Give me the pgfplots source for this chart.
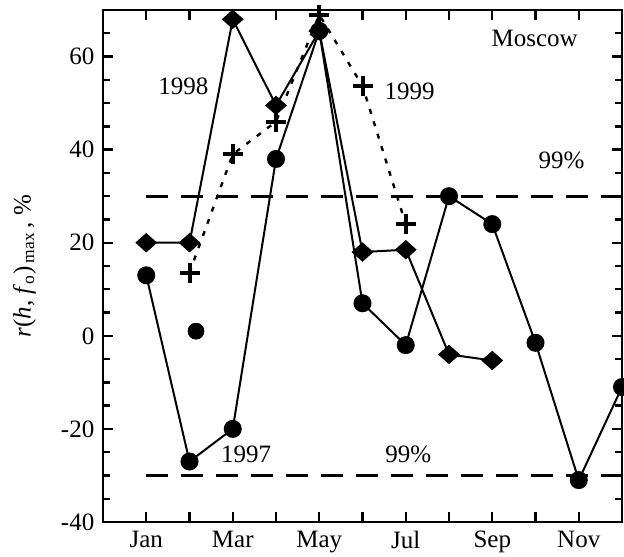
\documentclass[border=0pt]{standalone}
\usepackage{pgfplots}
\pgfplotsset{compat=1.18}
\usepackage{fontspec}
\setmainfont{Liberation Serif}

\begin{document}
\fontsize{12.5}{15}\selectfont
\begin{tikzpicture}
\begin{axis}[
  scale only axis, width=259.5pt, height=256pt,
  xmin=0, xmax=12, ymin=-40, ymax=70,
  axis line style={line width=1.4pt},
  xtick={1,...,11},
  xticklabels={Jan,,Mar,,May,,Jul,,Sep,,Nov},
  ytick={-40,-20,...,60},
  minor ytick={-35,-30,...,65},
  tick align=inside,
  major tick length=5pt, minor tick length=3.5pt,
  every tick/.style={line width=1.2pt, black},
  /pgf/number format/assume math mode=true,
  ticklabel style={font=\fontsize{12.5}{15}\selectfont},
  ylabel={\textit{r}(\textit{h}, \textit{f}\textsubscript{o})\textsubscript{\,max}\,, \%},
  ylabel style={font=\fontsize{12.5}{15}\selectfont},
  ylabel shift=4pt,
]
% 99% significance levels
\addplot[black, line width=1.5pt, dash pattern=on 11pt off 6.5pt] coordinates {(1,30) (12,30)};
\addplot[black, line width=1.5pt, dash pattern=on 11pt off 6.5pt] coordinates {(1,-30) (12,-30)};

% 1997
\addplot[black, line width=1pt, mark=*, mark size=4pt] coordinates {
  (1,13) (2,-27) (3,-20) (4,38) (5,65.5) (6,7) (7,-2) (8,30) (9,24) (10,-1.5) (11,-31) (12,-11)};
\addplot[black, only marks, mark=*, mark size=4pt] coordinates {(2.15,1)};

% 1998
\addplot[black, line width=1pt, mark=diamond*, mark size=4.2pt,
  mark options={xscale=1.5}] coordinates {
  (1,20) (2,20) (3,68) (4,49.5) (5,65.5) (6,18) (7,18.5) (8,-4) (9,-5.3)};

% 1999
\addplot[black, line width=1.2pt, dash pattern=on 2.5pt off 4pt,
  mark=+, mark size=5pt, mark options={solid, line width=2pt}] coordinates {
  (2,13.6) (3,39) (4,46) (5,69) (6,53.7) (7,24)};

\node[anchor=center] at (axis cs:9.98,63.9) {Moscow};
\node[anchor=center] at (axis cs:7.09,52.6) {1999};
\node[anchor=center] at (axis cs:1.86,53.7) {1998};
\node[anchor=center] at (axis cs:10.6,37.6) {99\%};
\node[anchor=center] at (axis cs:7.06,-25.4) {99\%};
\node[anchor=center] at (axis cs:3.31,-25.4) {1997};

\coordinate (sw) at (rel axis cs:0,0);
\coordinate (ne) at (rel axis cs:1,1);
\end{axis}
\pgfresetboundingbox
\path[use as bounding box] ([shift={(-51.5pt,-17pt)}]sw) rectangle ([shift={(1pt,5pt)}]ne);
\end{tikzpicture}
\end{document}
